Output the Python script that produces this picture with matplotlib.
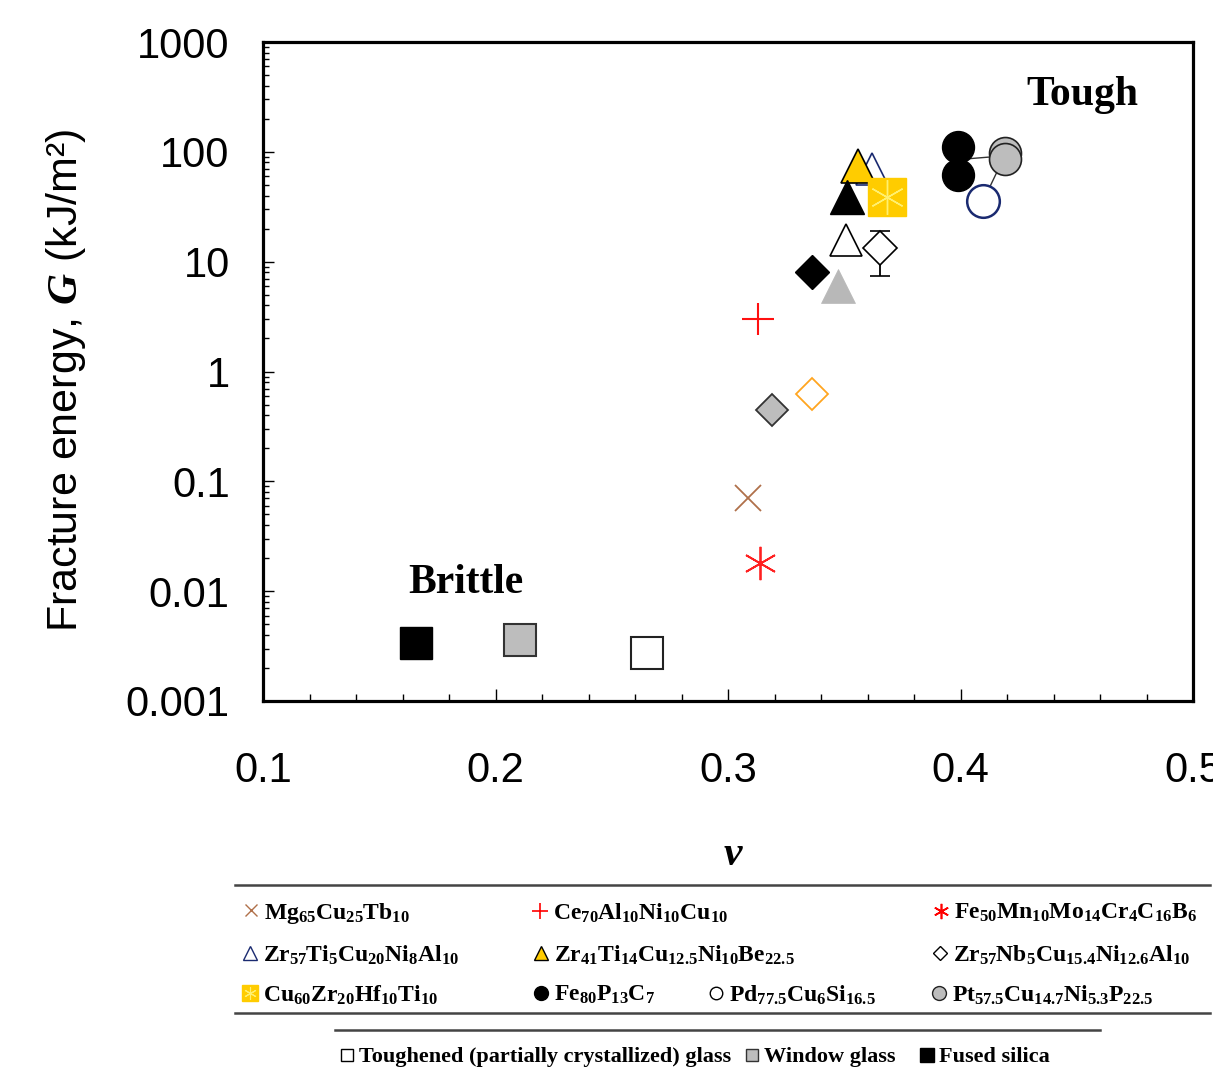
import re
import matplotlib
matplotlib.use("Agg")
import matplotlib.pyplot as plt
from matplotlib.lines import Line2D
import matplotlib.ticker as mticker

plt.rcParams['font.family'] = ['Liberation Sans', 'DejaVu Sans']
plt.rcParams['mathtext.fontset'] = 'custom'
plt.rcParams['mathtext.rm'] = 'Liberation Serif:bold'
plt.rcParams['mathtext.it'] = 'Liberation Serif:italic:bold'
plt.rcParams['mathtext.bf'] = 'Liberation Serif:bold'

# ---------------- data (Poisson ratio nu, fracture energy G in kJ/m^2) ----------
nu_fused, G_fused = [0.1656], [0.0034]
nu_window, G_window = [0.2107], [0.0036]
nu_tough, G_tough = [0.2653], [0.00272]
nu_mg, G_mg = [0.3088], [0.071]
nu_fe50, G_fe50 = [0.3138], [0.0179]
nu_ce, G_ce = [0.3127], [3.0]
nu_grey_dia, G_grey_dia = [0.319], [0.445]
nu_orange_dia, G_orange_dia = [0.336], [0.63]
nu_black_dia, G_black_dia = [0.3361], [8.1]
nu_grey_tri, G_grey_tri = [0.3471], [6.0]
nu_open_tri, G_open_tri = [0.3508], [15.7]
nu_zrnb, G_zrnb = [0.3654], [13.3]
G_zrnb_low, G_zrnb_high = [7.4], [19.0]
nu_black_tri, G_black_tri = [0.351], [39.2]
nu_zr41, G_zr41 = [0.3557], [74.0]
nu_zr57ti, G_zr57ti = [0.362], [70.5]
nu_cu60, G_cu60 = [0.3686], [38.7]
nu_fe80, G_fe80 = [0.399, 0.399], [111.0, 61.5]
nu_pt, G_pt = [0.419, 0.419], [97.0, 86.0]
nu_pd, G_pd = [0.4097], [35.6]
nu_link, G_link = [0.399, 0.419, 0.4097], [85.0, 92.0, 35.6]

y_ticks = [0.001, 0.01, 0.1, 1, 10, 100, 1000]
y_ticklabels = ['0.001', '0.01', '0.1', '1', '10', '100', '1000']
x_ticks = [0.1, 0.2, 0.3, 0.4, 0.5]
x_ticklabels = ['0.1', '0.2', '0.3', '0.4', '0.5']

labels_row1 = ['Mg65Cu25Tb10', 'Ce70Al10Ni10Cu10', 'Fe50Mn10Mo14Cr4C16B6']
labels_row2 = ['Zr57Ti5Cu20Ni8Al10', 'Zr41Ti14Cu12.5Ni10Be22.5', 'Zr57Nb5Cu15.4Ni12.6Al10']
labels_row3 = ['Cu60Zr20Hf10Ti10', 'Fe80P13C7', 'Pd77.5Cu6Si16.5', 'Pt57.5Cu14.7Ni5.3P22.5']
labels_glass = ['Toughened (partially crystallized) glass', 'Window glass', 'Fused silica']

# ---------------- figure ----------------
W, H = 1213, 1076
fig = plt.figure(figsize=(W / 100, H / 100), dpi=100)
ax = fig.add_axes([263 / W, 1 - 701 / H, 930 / W, 659 / H])

YEL = '#FFCC00'
GREY = '#BDBDBD'
NAVY = '#1A2A70'

ax.plot(nu_link, G_link, color='#333333', lw=1.0, zorder=1)

common = dict(linestyle='none')
ax.plot(nu_fused, G_fused, marker='s', ms=23.5, mfc='black', mec='black', mew=1, **common)
ax.plot(nu_window, G_window, marker='s', ms=23, mfc=GREY, mec='#333333', mew=1.5, **common)
ax.plot(nu_tough, G_tough, marker='s', ms=23, mfc='white', mec='#222222', mew=1.5, **common)
ax.plot(nu_mg, G_mg, marker='x', ms=19, mec='#B0704A', mew=1.3, **common)
ax.plot(nu_fe50, G_fe50, marker=(6, 2, 0), ms=24, mec='#FF2020', mew=1.3, **common)
ax.plot(nu_ce, G_ce, marker='+', ms=23, mec='#FF1010', mew=1.5, **common)
ax.plot(nu_grey_dia, G_grey_dia, marker='D', ms=16.5, mfc=GREY, mec='#333333', mew=1.3, **common)
ax.plot(nu_orange_dia, G_orange_dia, marker='D', ms=16.5, mfc='white', mec='#FFA520', mew=1.3, **common)
ax.plot(nu_black_dia, G_black_dia, marker='D', ms=17, mfc='black', mec='black', **common)
ax.plot(nu_grey_tri, G_grey_tri, marker='^', ms=24, mfc='#B8B8B8', mec='#B8B8B8', mew=0.5, **common)
ax.plot(nu_open_tri, G_open_tri, marker='^', ms=23.5, mfc='white', mec='black', mew=1.2, **common)
err_lo = [g - l for g, l in zip(G_zrnb, G_zrnb_low)]
err_hi = [h - g for g, h in zip(G_zrnb, G_zrnb_high)]
ax.errorbar(nu_zrnb, G_zrnb, yerr=[err_lo, err_hi], fmt='D', ms=17, mfc='white', mec='black',
            mew=1.2, ecolor='black', elinewidth=1.3, capsize=7, capthick=1.3, zorder=3)
ax.plot(nu_zr57ti, G_zr57ti, marker='^', ms=23.5, mfc='white', mec=NAVY, mew=1.2, zorder=3, **common)
ax.plot(nu_zr41, G_zr41, marker='^', ms=24, mfc=YEL, mec='black', mew=1.2, zorder=4, **common)
ax.plot(nu_black_tri, G_black_tri, marker='^', ms=24, mfc='black', mec='black', zorder=5, **common)
ax.plot(nu_cu60, G_cu60, marker='s', ms=27.5, mfc=YEL, mec=YEL, zorder=5, **common)
ax.plot(nu_cu60, G_cu60, marker=(6, 2, 0), ms=25, mec='#FFF070', mew=1.0, zorder=6, **common)
ax.plot(nu_fe80, G_fe80, marker='o', ms=23, mfc='black', mec='black', zorder=4, **common)
ax.plot(nu_pt, G_pt, marker='o', ms=23, mfc=GREY, mec='#222222', mew=1.2, zorder=4, **common)
ax.plot(nu_pd, G_pd, marker='o', ms=23.5, mfc='white', mec=NAVY, mew=1.8, zorder=4, **common)

ax.set_xscale('linear')
ax.set_yscale('log')
ax.set_xlim(0.1, 0.5)
ax.set_ylim(0.001, 1000)
ax.set_xticks(x_ticks, x_ticklabels)
ax.set_yticks(y_ticks, y_ticklabels)
ax.xaxis.set_minor_locator(mticker.MultipleLocator(0.02))
ax.yaxis.set_minor_locator(mticker.LogLocator(base=10, subs=range(2, 10), numticks=50))
ax.yaxis.set_minor_formatter(mticker.NullFormatter())
ax.tick_params(axis='both', which='both', direction='in', top=False, right=False, width=1.0)
ax.tick_params(axis='x', which='major', length=9, pad=36, labelsize=30)
ax.tick_params(axis='x', which='minor', length=5)
ax.tick_params(axis='y', which='major', length=8, pad=24, labelsize=30)
ax.tick_params(axis='y', which='minor', length=4.5)
for sp in ax.spines.values():
    sp.set_linewidth(2.3)

# annotations
fig.text(1082 / W, 1 - 105 / H, 'Tough', ha='center', va='baseline',
         fontfamily='Liberation Serif', fontweight='bold', fontsize=30)
fig.text(466 / W, 1 - 593 / H, 'Brittle', ha='center', va='baseline',
         fontfamily='Liberation Serif', fontweight='bold', fontsize=30)
fig.text(66 / W, 1 - 380 / H, 'Fracture energy, $G$ (kJ/m²)', rotation=90,
         ha='center', va='center', fontsize=31)
fig.text(733 / W, 1 - 855 / H, 'ν', ha='center', va='center', fontfamily='Liberation Serif',
         fontweight='bold', fontstyle='italic', fontsize=30)


# ---------------- legend ----------------
def chem(s):
    parts = re.findall(r'([A-Z][a-z]?)([\d.]+)', s)
    return '$' + ''.join(r'\mathrm{%s}_{%s}' % (e, n) for e, n in parts) + '$'


def entry(handle, label, x_px, y_px, fs=17, prop=None):
    kw = dict(loc='center left', bbox_to_anchor=(x_px / W, 1 - y_px / H),
              bbox_transform=fig.transFigure, frameon=False, handlelength=0.8,
              handletextpad=0.15, borderpad=0, borderaxespad=0, numpoints=1)
    if prop is None:
        kw['fontsize'] = fs
    else:
        kw['prop'] = prop
    fig.legend([handle], [label], **kw)


def hl(**k):
    return Line2D([], [], linestyle='none', **k)


def hline(x0, x1, y, lw=1.8):
    fig.add_artist(Line2D([x0 / W, x1 / W], [1 - y / H, 1 - y / H], color='#444444', lw=lw))


hline(235, 1210, 885)
hline(235, 1210, 1013)
hline(335, 1100, 1030)

h_mg = hl(marker='x', ms=8, mec='#B0704A', mew=1)
h_ce = hl(marker='+', ms=11, mec='red', mew=1.2)
h_fe50 = hl(marker=(6, 2, 0), ms=11, mec='red', mew=1.2)
h_zrti = hl(marker='^', ms=10, mfc='white', mec=NAVY, mew=1)
h_zr41 = hl(marker='^', ms=10, mfc=YEL, mec='black', mew=1)
h_zrnb = hl(marker='D', ms=7, mfc='white', mec='black', mew=1)
h_cu60 = (hl(marker='s', ms=11, mfc=YEL, mec=YEL), hl(marker=(6, 2, 0), ms=9, mec='#FFF070', mew=0.8))
h_fe80 = hl(marker='o', ms=10, mfc='black', mec='black')
h_pd = hl(marker='o', ms=9, mfc='white', mec='black', mew=1)
h_pt = hl(marker='o', ms=10, mfc=GREY, mec='#222222', mew=1)

entry(h_mg, chem(labels_row1[0]), 242, 913)
entry(h_ce, chem(labels_row1[1]), 531, 913)
entry(h_fe50, chem(labels_row1[2]), 932, 913)
entry(h_zrti, chem(labels_row2[0]), 241, 955)
entry(h_zr41, chem(labels_row2[1]), 532, 955)
entry(h_zrnb, chem(labels_row2[2]), 931, 955)
entry(h_cu60, chem(labels_row3[0]), 241, 995)
entry(h_fe80, chem(labels_row3[1]), 532, 995)
entry(h_pd, chem(labels_row3[2]), 707, 995)
entry(h_pt, chem(labels_row3[3]), 930, 995)

gprop = dict(family='Liberation Serif', weight='bold', size=16)
entry(hl(marker='s', ms=9, mfc='white', mec='black', mew=1), labels_glass[0], 338, 1057, prop=gprop)
entry(hl(marker='s', ms=9, mfc=GREY, mec='#333333', mew=1), labels_glass[1], 743, 1057, prop=gprop)
entry(hl(marker='s', ms=10, mfc='black', mec='black'), labels_glass[2], 918, 1057, prop=gprop)

fig.savefig('out.png', dpi=100)
